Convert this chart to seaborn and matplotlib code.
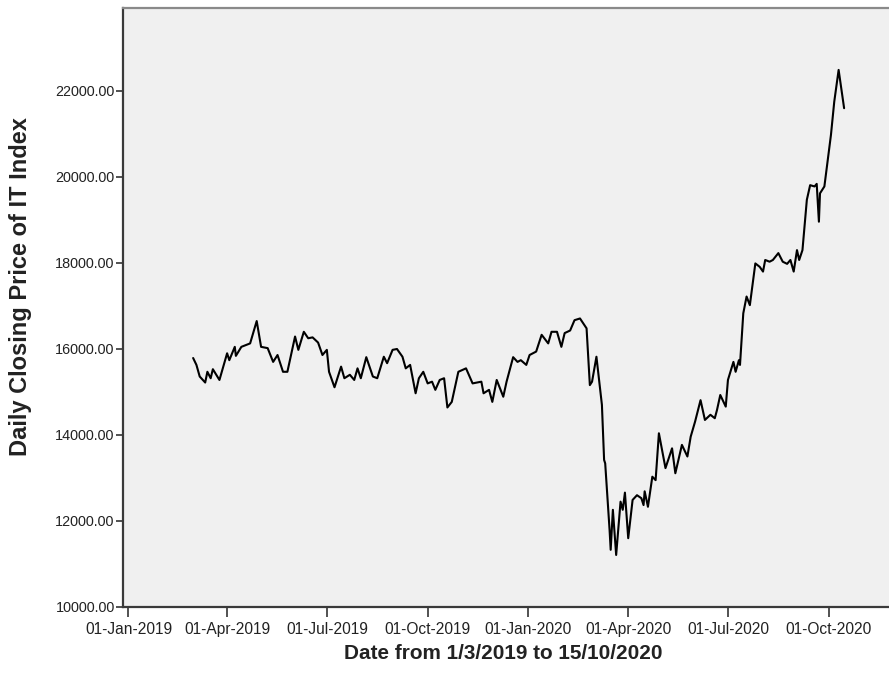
import pandas as pd
import numpy as np
import matplotlib
matplotlib.use("Agg")
import matplotlib.pyplot as plt
import matplotlib.dates as mdates
from matplotlib import font_manager
from matplotlib.ticker import FormatStrFormatter
import seaborn as sns

# values (approximate)
dates = [
    "2019-03-01", "2019-03-04", "2019-03-07", "2019-03-12", "2019-03-14", "2019-03-17",
    "2019-03-19", "2019-03-25", "2019-04-01", "2019-04-03", "2019-04-08", "2019-04-09",
    "2019-04-14", "2019-04-22", "2019-04-28", "2019-05-02", "2019-05-08", "2019-05-13",
    "2019-05-17", "2019-05-22", "2019-05-26", "2019-06-02", "2019-06-05", "2019-06-10",
    "2019-06-14", "2019-06-18", "2019-06-23", "2019-06-27", "2019-07-01", "2019-07-03",
    "2019-07-08", "2019-07-14", "2019-07-17", "2019-07-22", "2019-07-26", "2019-07-29",
    "2019-08-01", "2019-08-06", "2019-08-12", "2019-08-16", "2019-08-22", "2019-08-25",
    "2019-08-30", "2019-09-03", "2019-09-08", "2019-09-11", "2019-09-15", "2019-09-20",
    "2019-09-23", "2019-09-27", "2019-10-01", "2019-10-05", "2019-10-08", "2019-10-12",
    "2019-10-16", "2019-10-19", "2019-10-23", "2019-10-29", "2019-11-05", "2019-11-11",
    "2019-11-19", "2019-11-21", "2019-11-26", "2019-11-29", "2019-12-03", "2019-12-09",
    "2019-12-12", "2019-12-18", "2019-12-22", "2019-12-25", "2019-12-30",
    "2020-01-02", "2020-01-08", "2020-01-13", "2020-01-19", "2020-01-22", "2020-01-27",
    "2020-01-31", "2020-02-03", "2020-02-08", "2020-02-12", "2020-02-17", "2020-02-23",
    "2020-02-26", "2020-02-28", "2020-03-03", "2020-03-08", "2020-03-10", "2020-03-11",
    "2020-03-15", "2020-03-16", "2020-03-18", "2020-03-21", "2020-03-25", "2020-03-27",
    "2020-03-29", "2020-04-01", "2020-04-05", "2020-04-09", "2020-04-13", "2020-04-15",
    "2020-04-16", "2020-04-19", "2020-04-23", "2020-04-26", "2020-04-29", "2020-05-05",
    "2020-05-11", "2020-05-14", "2020-05-20", "2020-05-25", "2020-05-28", "2020-06-01",
    "2020-06-06", "2020-06-10", "2020-06-15", "2020-06-19", "2020-06-21", "2020-06-24",
    "2020-06-29", "2020-07-01", "2020-07-06", "2020-07-08", "2020-07-11", "2020-07-12",
    "2020-07-15", "2020-07-18", "2020-07-21", "2020-07-26", "2020-07-30", "2020-08-02",
    "2020-08-04", "2020-08-08", "2020-08-11", "2020-08-16", "2020-08-20", "2020-08-24",
    "2020-08-27", "2020-08-30", "2020-09-02", "2020-09-04", "2020-09-07", "2020-09-11",
    "2020-09-14", "2020-09-18", "2020-09-20", "2020-09-22", "2020-09-23", "2020-09-27",
    "2020-10-03", "2020-10-06", "2020-10-10", "2020-10-15",
]
close = [
    15790, 15630, 15360, 15220, 15470, 15320,
    15530, 15280, 15900, 15740, 16050, 15840,
    16050, 16130, 16650, 16050, 16020, 15700,
    15860, 15470, 15470, 16290, 15980, 16400,
    16250, 16270, 16150, 15860, 15980, 15470,
    15110, 15590, 15320, 15400, 15280, 15550,
    15320, 15810, 15360, 15320, 15820, 15670,
    15980, 16000, 15820, 15550, 15630, 14970,
    15320, 15470, 15200, 15240, 15050, 15280,
    15320, 14640, 14770, 15470, 15550, 15200,
    15240, 14970, 15050, 14770, 15280, 14890,
    15240, 15810, 15700, 15740, 15630,
    15860, 15940, 16330, 16130, 16400, 16400,
    16050, 16370, 16430, 16670, 16710, 16480,
    15160, 15240, 15820, 14700, 13420, 13340,
    11790, 11330, 12260, 11210, 12450, 12260,
    12660, 11600, 12490, 12600, 12530, 12370,
    12690, 12330, 13030, 12950, 14040, 13230,
    13690, 13110, 13770, 13500, 13960, 14310,
    14810, 14350, 14470, 14390, 14580, 14930,
    14660, 15280, 15700, 15470, 15740, 15630,
    16830, 17220, 17020, 17990, 17910, 17800,
    18070, 18030, 18070, 18230, 18030, 17980,
    18070, 17800, 18300, 18070, 18300, 19470,
    19810, 19780, 19840, 18960, 19620, 19780,
    20980, 21750, 22490, 21600,
]
quarter_ticks = ["2019-01-01", "2019-04-01", "2019-07-01", "2019-10-01",
                 "2020-01-01", "2020-04-01", "2020-07-01", "2020-10-01"]
y_ticks = [10000, 12000, 14000, 16000, 18000, 20000, 22000]

df = pd.DataFrame({"date": pd.to_datetime(dates), "close": close})

sns.set_style("ticks", {"axes.facecolor": "#f0f0f0"})
plt.rcParams["font.family"] = ["Liberation Sans", "DejaVu Sans"]

# the original text looks tall and narrow, so use the narrow face if it is there
names = {f.name for f in font_manager.fontManager.ttflist}
narrow = "Liberation Sans Narrow" in names
hfam = ["Liberation Sans Narrow", "DejaVu Sans"] if narrow else ["Liberation Sans", "DejaVu Sans"]
k = 1.0 if narrow else 0.83

fig = plt.figure(figsize=(8.89, 6.79), dpi=100)
# axes run past the right edge, like the cropped original
ax = fig.add_axes([123 / 889, 72 / 679, 777 / 889, 599 / 679])

sns.lineplot(data=df, x="date", y="close", color="black", linewidth=1.5, ax=ax)

ax.set_xlim(pd.Timestamp("2018-12-27"), pd.Timestamp("2020-12-05"))
ax.set_ylim(10000, 23930)
ax.set_xticks(pd.to_datetime(quarter_ticks))
ax.xaxis.set_major_formatter(mdates.DateFormatter("%d-%b-%Y"))
ax.set_yticks(y_ticks)
ax.yaxis.set_major_formatter(FormatStrFormatter("%.2f"))

ax.tick_params(axis="both", direction="out", length=5, width=1.2, color="#333333",
               labelcolor="#222222")
ax.tick_params(axis="x", length=7, pad=4)
ax.tick_params(axis="y", pad=1)
for lab in ax.get_yticklabels():
    lab.set_family(hfam)
    lab.set_fontsize(12.5 * k)
for lab in ax.get_xticklabels():
    lab.set_family(hfam)
    lab.set_fontsize(13.5 * k)

for side in ["left", "bottom"]:
    ax.spines[side].set_color("#3a3a3a")
    ax.spines[side].set_linewidth(1.6)
ax.spines["top"].set_color("#8a8a8a")
ax.spines["top"].set_linewidth(1.6)
ax.spines["right"].set_visible(False)

ax.set_xlabel("Date from 1/3/2019 to 15/10/2020", fontsize=18 * k, fontweight="bold",
              color="#222222", family=hfam)
ax.set_ylabel("Daily Closing Price of IT Index", fontsize=17, fontweight="bold", color="#222222")
ax.xaxis.set_label_coords(0.49, -0.062)
ax.yaxis.set_label_coords(-0.117, 0.535)

fig.savefig("out.png", dpi=100)
